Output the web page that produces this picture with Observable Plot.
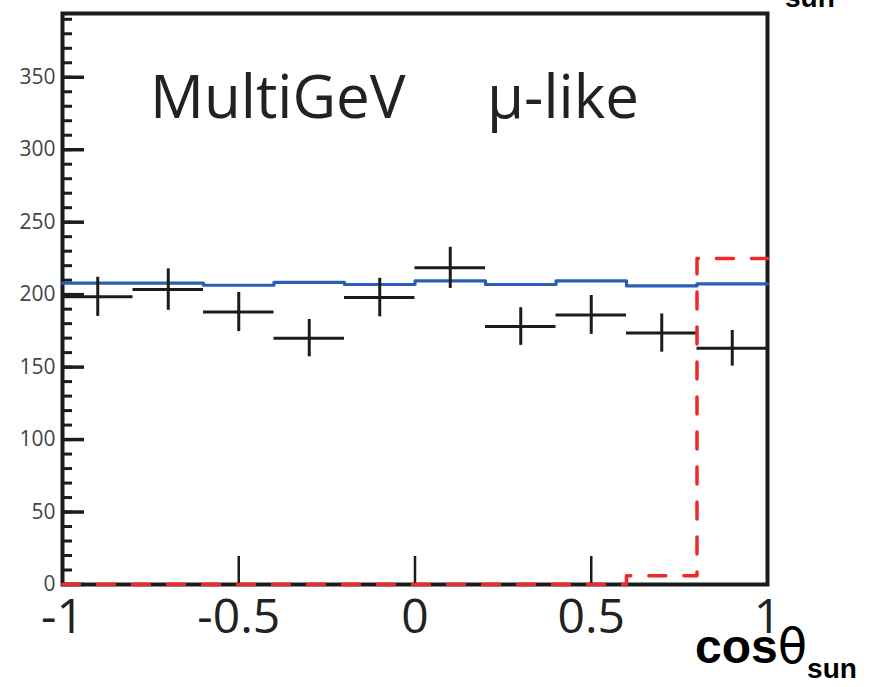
<!DOCTYPE html>
<html>
<head>
<meta charset="utf-8">
<script src="https://cdn.jsdelivr.net/npm/d3@7"></script>
<script src="https://cdn.jsdelivr.net/npm/@observablehq/plot@0.6"></script>
<style>
  html, body { margin: 0; padding: 0; background: #fff; }
  #chart svg { display: block; }
</style>
</head>
<body>
<div id="chart"></div>
<script>
// ---- data ----
const binEdges = [-1, -0.8, -0.6, -0.4, -0.2, 0, 0.2, 0.4, 0.6, 0.8, 1];
const binCenters = [-0.9, -0.7, -0.5, -0.3, -0.1, 0.1, 0.3, 0.5, 0.7, 0.9];
const dataCounts = [198.5, 203.5, 188, 170, 198, 218.5, 178, 186, 173.5, 163];
const dataErrors = [13.5, 14.3, 13.5, 12.9, 13.3, 14.2, 13, 13.4, 13.2, 12.3];
const mcExpected = [208, 208, 206.5, 208.5, 207, 209.5, 207, 209.5, 206, 207.5];
const signalHist = [0, 0, 0, 0, 0, 0, 0, 0, 6, 225];
const yMajorTicks = [0, 50, 100, 150, 200, 250, 300, 350];
const yMinorTicks = d3.range(0, 400, 10);
const xLabelTicks = [-1, -0.5, 0, 0.5, 1];
const xInnerTicks = [-0.5, 0, 0.5];
const titleLeft = "MultiGeV";
const titleRight = "\u03BC-like";

// ---- derived tables ----
const stepTable = (vals) => binEdges.map((x, i) => ({x, y: vals[Math.min(i, vals.length - 1)]}));
const points = binCenters.map((c, i) => ({
  c, lo: binEdges[i], hi: binEdges[i + 1], v: dataCounts[i], e: dataErrors[i]
}));

const W = 872, H = 687;
const mL = 62, mR = 105, mT = 13, mB = 103;
const frameW = W - mL - mR, frameH = H - mT - mB;

const ink = "#1c1c1c";

const plot = Plot.plot({
  width: W,
  height: H,
  marginLeft: mL,
  marginRight: mR,
  marginTop: mT,
  marginBottom: mB,
  style: {fontFamily: "'Open Sans', sans-serif", background: "#fff"},
  x: {domain: [-1, 1]},
  y: {domain: [0, 394]},
  marks: [
    Plot.frame({stroke: ink, strokeWidth: 4}),
    // y ticks (inward)
    Plot.ruleY(yMinorTicks, {y: d => d, insetRight: frameW - 10, stroke: ink, strokeWidth: 3}),
    Plot.ruleY(yMajorTicks, {y: d => d, insetRight: frameW - 22, stroke: ink, strokeWidth: 3.5}),
    // x ticks (inward)
    Plot.ruleX(xInnerTicks, {x: d => d, insetTop: frameH - 28, stroke: ink, strokeWidth: 2.5}),
    Plot.axisY({ticks: yMajorTicks, tickSize: 0, tickPadding: 7, fontSize: 21, fill: "#444", label: null, tickFormat: d => String(d)}),
    Plot.axisX({ticks: xLabelTicks, tickSize: 0, tickPadding: 14, fontSize: 48, fill: "#222", label: null, tickFormat: d => String(d)}),
    // MC expectation
    Plot.line(stepTable(mcExpected), {x: "x", y: "y", curve: "step-after", stroke: "#2a5db3", strokeWidth: 3.2}),
    // data crosses
    Plot.ruleY(points, {y: "v", x1: "lo", x2: "hi", stroke: ink, strokeWidth: 3}),
    Plot.ruleX(points, {x: "c", y1: d => d.v - d.e, y2: d => d.v + d.e, stroke: ink, strokeWidth: 3}),
    // signal (red dashed)
    Plot.line(stepTable(signalHist), {x: "x", y: "y", curve: "step-after", stroke: "#f0282a", strokeWidth: 3.5, strokeDasharray: "17,18"})
  ]
});

document.getElementById("chart").appendChild(plot);

const svg = d3.select(plot);
// title inside the frame
svg.append("text").attr("x", 150).attr("y", 118).attr("text-anchor", "start")
  .attr("font-family", "'Open Sans', sans-serif").attr("font-size", 60).attr("fill", "#222")
  .text(titleLeft);
svg.append("text").attr("x", 487).attr("y", 118).attr("text-anchor", "start")
  .attr("font-family", "'Open Sans', sans-serif").attr("font-size", 60).attr("fill", "#222")
  .text(titleRight);

// x-axis label: cosθ_sun
const xl = svg.append("text").attr("x", 695).attr("y", 663).attr("text-anchor", "start")
  .attr("font-family", "'Liberation Sans', Arial, sans-serif").attr("font-weight", "bold")
  .attr("font-size", 48).attr("fill", "#000");
xl.append("tspan").text("cos");
xl.append("tspan").text("\u03B8").attr("font-weight", "normal").attr("font-family", "'DejaVu Sans', sans-serif");
xl.append("tspan").text("sun").attr("font-size", 28).attr("dy", 15);

// clipped subscript from the panel above (top-right edge)
svg.append("text").attr("x", 785).attr("y", 7).attr("text-anchor", "start")
  .attr("font-family", "'Liberation Sans', Arial, sans-serif").attr("font-weight", "bold")
  .attr("font-size", 28).attr("fill", "#000").text("sun");
</script>
</body>
</html>
